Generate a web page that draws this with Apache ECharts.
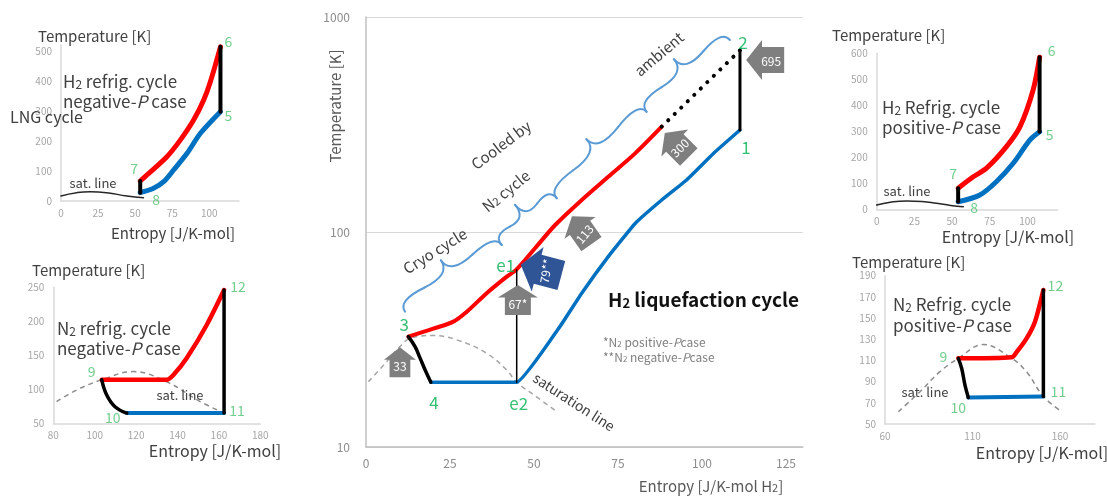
<!DOCTYPE html>
<html>
<head>
<meta charset="utf-8">
<script src="https://cdn.jsdelivr.net/npm/echarts@6/dist/echarts.min.js"></script>
<style>
  html, body { margin: 0; padding: 0; background: #fff; }
  #c { width: 1107px; height: 496px; }
</style>
</head>
<body>
<div id="c"></div>
<script>
// ---------- H2 liquefaction cycle: main T-s diagram [entropy J/K-mol H2, temperature K] ----------
const feedHot = [[12.6,32.6],[20,35.5],[26,38.3],[30,42.6],[35.9,51.9],[41.9,62],[44.6,66.5],[50.3,84],[56.3,107.8],[64.2,140.9],[72.1,180.8],[80.1,232.2],[88,309]];
const feedAmbient = [[88,309],[111.3,700]];
const feedCold = [[19.3,20],[44.85,20],[57.7,36.3],[64.2,51.9],[72.1,76.8],[80.1,109.6],[88,140.9],[95.4,174.6],[103.4,232],[111.3,298]];
const expansion34 = [[12.6,32.6],[14.6,29.3],[16.1,25.9],[17.6,22.8],[19.3,20]];
const compression12 = [[111.3,298],[111.3,700]];
const extractionE = [[44.85,20],[44.85,66.5]];
const h2Saturation = [[0.7,20.1],[5.2,24],[10.1,29.3],[13.1,32],[20,33],[27,31.5],[35.9,27.3],[41.9,22.8],[44.85,20],[50.8,17.1],[56.8,14.6]];
const mainNodeNames = ['1','2','3','4','e1','e2'];
const mainNodeCoords = [[111.3,298],[111.3,700],[12.6,32.6],[19.3,20],[44.85,66.5],[44.85,20]];
const dutyLabels = ['33','67*','79**','113','300','695'];
const dutyCoords = [[10.1,24.8],[45.2,48.3],[52.1,66.5],[64.2,102],[92.5,254],[118.8,631]];
const braceEnds = [[11.6,42.6],[40.4,87],[56.8,143.5],[83.5,362.6],[108.3,781.6]];
const mainXTicks = [0,25,50,75,100,125];

// ---------- H2 refrigeration cycle, negative-P case ----------
const tlHot = [[53.4,66.7],[57.9,86.7],[71.4,147.7],[80.4,203],[89.4,270],[96.2,336.7],[100.7,397.7],[107.5,514]];
const tlCold = [[53.4,27.7],[62.4,42.3],[69.2,64.3],[75.9,103.3],[85,159],[94,225.7],[107.5,297.7]];
const tl78 = [[53.4,27.7],[53.4,66.7]];
const tl56 = [[107.5,297.7],[107.5,514]];
const tlSat = [[0,17],[10.6,27.7],[19.6,31],[30.9,27.7],[44.4,16.7],[55.6,11]];
const tlNodeNames = ['5','6','7','8'];
const tlNodeCoords = [[107.5,297.7],[107.5,514],[53.4,66.7],[53.4,27.7]];
const tlXTicks = [0,25,50,75,100];
const tlYTicks = [0,100,200,300,400,500];

// ---------- N2 refrigeration cycle, negative-P case ----------
const blHot = [[103.4,114],[134.8,114],[138,121],[144.4,145.6],[154.1,194.6],[162.5,246]];
const blCold = [[115.5,65],[162.5,65]];
const blThrottle = [[103.4,114],[105.8,91.6],[109.8,74.4],[115.5,65]];
const bl1112 = [[162.5,65],[162.5,246]];
const blSat = [[81.6,81.8],[91.3,99],[103.4,114],[118.6,126],[134.8,111],[150.9,82],[162.5,65]];
const blNodeNames = ['9','10','11','12'];
const blNodeCoords = [[103.4,114],[115.5,65],[162.5,65],[162.5,246]];
const blXTicks = [80,100,120,140,160,180];
const blYTicks = [50,100,150,200,250];

// ---------- H2 refrigeration cycle, positive-P case ----------
const trHot = [[54,81],[64,125],[72.8,158],[86,241],[95,318],[103.7,459],[108,585]];
const trCold = [[54,29],[68.4,55],[79.3,106],[90.5,177],[101.5,266],[108,298]];
const tr78 = [[54,29],[54,81]];
const tr56 = [[108,298],[108,585]];
const trSat = [[0,16.5],[9,27],[19.9,32],[30,30],[39.7,23],[49,15],[57.4,10]];
const trNodeNames = ['5','6','7','8'];
const trNodeCoords = [[108,298],[108,585],[54,81],[54,29]];
const trXTicks = [0,25,50,75,100];
const trYTicks = [0,100,200,300,400,500,600];

// ---------- N2 refrigeration cycle, positive-P case ----------
const brHot = [[101.9,112],[132.4,113],[135.3,118],[141,131],[145.7,146.6],[150.5,176.5]];
const brCold = [[107.6,75],[150.5,76]];
const brThrottle = [[101.9,112],[103.8,102.6],[105.7,86.8],[107.6,75]];
const br1112 = [[150.5,76],[150.5,176.5]];
const brSat = [[67.6,61.6],[80,80.5],[91.4,99.4],[101.9,112],[116.2,125],[132.4,112],[141,99],[150.5,76],[161,61.6]];
const brNodeNames = ['9','10','11','12'];
const brNodeCoords = [[101.9,112],[107.6,75],[150.5,76],[150.5,176.5]];
const brXTicks = [60,110,160];
const brYTicks = [50,70,90,110,130,150,170,190];

// ---------- styling ----------
const FONT = '"Noto Sans CJK JP", "Noto Sans", sans-serif';
const RED = '#FF0000', BLUE = '#0070C0', BLACK = '#000000';
const GREEN_MAIN = '#00B050', GREEN_PANEL = '#4DC270';
const TXT = '#404040';
// block arrow pointing up; rotated per item
const ARROW_PATH = 'path://M20,0 L40,15 L33,15 L33,36 L7,36 L7,15 L0,15 Z';
const arrowStyle = [
  { rot: 0,  size: [32,30], color: '#7f7f7f', textRot: 0,  offset: [0,4] },
  { rot: 0,  size: [40,30], color: '#7f7f7f', textRot: 0,  offset: [0,4] },
  { rot: 75, size: [46,42], color: '#2F5597', textRot: 80, offset: [5,1] },
  { rot: 35, size: [38,34], color: '#7f7f7f', textRot: 50, offset: [3,4] },
  { rot: 45, size: [38,34], color: '#7f7f7f', textRot: 45, offset: [3,3] },
  { rot: 90, size: [40,38], color: '#7f7f7f', textRot: 0,  offset: [6,1] }
];
const mainNodeOffsets = [[6,18],[3,-8],[-4,-12],[3,20],[-11,-5],[2,21]];
const tlNodeOffsets = [[8,4],[8,-5],[-6,-12],[16,7]];
const blNodeOffsets = [[-10,-8],[-14,5],[13,-2],[14,-3]];
const trNodeOffsets = [[10,3],[12,-7],[-5,-15],[16,6]];
const brNodeOffsets = [[-15,-2],[-10,10],[15,-5],[12,-4]];

const chart = echarts.init(document.getElementById('c'), null, { renderer: 'canvas' });

const grids = [
  { left: 366,   top: 17,    width: 436.8, height: 430 },
  { left: 61,    top: 45,    width: 178,   height: 156 },
  { left: 53.3,  top: 287.3, width: 207,   height: 136 },
  { left: 876.7, top: 53.3,  width: 181,   height: 156 },
  { left: 885,   top: 275.7, width: 210,   height: 148.3 }
].map(g => Object.assign({ containLabel: false, outerBoundsMode: 'none' }, g));

function panelAxis(gi, min, max, ticks, isY) {
  return {
    type: 'value', gridIndex: gi, min, max,
    axisLine: { show: true, onZero: false, lineStyle: { color: '#d9d9d9', width: 1.5 } },
    axisTick: { show: false },
    splitLine: { show: false },
    axisLabel: { customValues: ticks, color: '#a6a6a6', fontSize: 10, fontFamily: FONT, margin: isY ? 9 : 7 }
  };
}

const xAxes = [
  {
    type: 'value', gridIndex: 0, min: 0, max: 130,
    axisLine: { show: true, onZero: false, lineStyle: { color: '#bfbfbf', width: 1.5 } },
    axisTick: { show: false }, splitLine: { show: false },
    axisLabel: { customValues: mainXTicks, color: '#8c8c8c', fontSize: 12, fontFamily: FONT, margin: 10 }
  },
  panelAxis(1, 0, 120, tlXTicks, false),
  panelAxis(2, 80, 180, blXTicks, false),
  panelAxis(3, 0, 120, trXTicks, false),
  panelAxis(4, 60, 180, brXTicks, false)
];
const yAxes = [
  {
    type: 'log', logBase: 10, gridIndex: 0, min: 10, max: 1000,
    axisLine: { show: true, onZero: false, lineStyle: { color: '#bfbfbf', width: 1.5 } },
    axisTick: { show: false },
    splitLine: { show: true, lineStyle: { color: '#d9d9d9', width: 1.2 } },
    minorTick: { show: false }, minorSplitLine: { show: false },
    axisLabel: { color: '#8c8c8c', fontSize: 12, fontFamily: FONT, margin: 16, formatter: v => String(Math.round(v)) }
  },
  panelAxis(1, 0, 520, tlYTicks, true),
  panelAxis(2, 50, 250, blYTicks, true),
  panelAxis(3, 0, 600, trYTicks, true),
  panelAxis(4, 50, 190, brYTicks, true)
];

function line(gi, data, color, width, extra) {
  return Object.assign({
    type: 'line', xAxisIndex: gi, yAxisIndex: gi, data,
    symbol: 'none', clip: false, silent: true, animation: false,
    lineStyle: { color, width, cap: 'round', join: 'round' }
  }, extra || {});
}
function dashed(gi, data, color, width) {
  return line(gi, data, color, width, { smooth: 0.4, z: 1, lineStyle: { color, width, type: [5, 4] } });
}
function nodes(gi, names, coords, offsets, size, color) {
  return {
    type: 'scatter', xAxisIndex: gi, yAxisIndex: gi, symbolSize: 1, clip: false, z: 10,
    silent: true, animation: false,
    itemStyle: { color: 'transparent' },
    data: names.map((n, i) => ({ name: n, value: coords[i], label: { offset: offsets[i] } })),
    label: { show: true, position: 'inside', formatter: '{b}', color, fontSize: size, fontFamily: FONT }
  };
}

const series = [
  // main diagram
  dashed(0, h2Saturation, '#a6a6a6', 1.5),
  line(0, feedHot, RED, 4, { smooth: 0.3 }),
  line(0, feedAmbient, BLACK, 4, { lineStyle: { color: BLACK, width: 4, type: [0.1, 9], cap: 'round' } }),
  line(0, feedCold, BLUE, 3.5, { smooth: 0.1 }),
  line(0, expansion34, BLACK, 3.5, { smooth: 0.4 }),
  line(0, compression12, BLACK, 3),
  line(0, extractionE, BLACK, 1.5),
  nodes(0, mainNodeNames, mainNodeCoords, mainNodeOffsets, 17, GREEN_MAIN),
  // heat-duty arrows
  {
    type: 'scatter', xAxisIndex: 0, yAxisIndex: 0, clip: false, z: 8, silent: true, animation: false,
    symbol: ARROW_PATH, symbolKeepAspect: false,
    data: dutyLabels.map((t, i) => ({
      name: t, value: dutyCoords[i],
      symbolSize: arrowStyle[i].size, symbolRotate: arrowStyle[i].rot,
      itemStyle: { color: arrowStyle[i].color, opacity: 1 }
    })),
    label: { show: false }
  },

  // H2 refrigeration, negative-P
  line(1, tlSat, '#262626', 1.5, { smooth: 0.5 }),
  line(1, tlCold, BLUE, 5, { smooth: 0.3 }),
  line(1, tlHot, RED, 5, { smooth: 0.3 }),
  line(1, tl78, BLACK, 4),
  line(1, tl56, BLACK, 4),
  nodes(1, tlNodeNames, tlNodeCoords, tlNodeOffsets, 14, GREEN_PANEL),

  // N2 refrigeration, negative-P
  dashed(2, blSat, '#8c8c8c', 1.5),
  line(2, blCold, BLUE, 4),
  line(2, blHot, RED, 4.5, { smooth: 0.25 }),
  line(2, blThrottle, BLACK, 3.5, { smooth: 0.4 }),
  line(2, bl1112, BLACK, 3.5),
  nodes(2, blNodeNames, blNodeCoords, blNodeOffsets, 14, GREEN_PANEL),

  // H2 refrigeration, positive-P
  line(3, trSat, '#262626', 1.5, { smooth: 0.5 }),
  line(3, trCold, BLUE, 5, { smooth: 0.3 }),
  line(3, trHot, RED, 5, { smooth: 0.3 }),
  line(3, tr78, BLACK, 4),
  line(3, tr56, BLACK, 4),
  nodes(3, trNodeNames, trNodeCoords, trNodeOffsets, 14, GREEN_PANEL),

  // N2 refrigeration, positive-P
  dashed(4, brSat, '#8c8c8c', 1.5),
  line(4, brCold, BLUE, 4),
  line(4, brHot, RED, 4.5, { smooth: 0.25 }),
  line(4, brThrottle, BLACK, 3.5, { smooth: 0.4 }),
  line(4, br1112, BLACK, 3.5),
  nodes(4, brNodeNames, brNodeCoords, brNodeOffsets, 14, GREEN_PANEL)
];

chart.setOption({
  backgroundColor: '#ffffff',
  animation: false,
  grid: grids,
  xAxis: xAxes,
  yAxis: yAxes,
  series
});

// ---------- text annotations ----------
const richBase = (size, color) => ({
  t: { fontSize: size, fontFamily: FONT, fill: color, color },
  s: { fontSize: Math.round(size * 0.7), fontFamily: FONT, fill: color, color, verticalAlign: 'bottom' },
  i: { fontSize: size, fontFamily: FONT, fontStyle: 'italic', fill: color, color },
  b: { fontSize: size, fontFamily: FONT, fontWeight: 'bold', fill: color, color },
  bs: { fontSize: Math.round(size * 0.7), fontFamily: FONT, fontWeight: 'bold', fill: color, color, verticalAlign: 'bottom' }
});
function txt(x, y, text, size, color, align, rotDeg) {
  return {
    type: 'text', x, y, rotation: (rotDeg || 0) * Math.PI / 180, silent: true, z: 20,
    style: {
      text, fill: color, font: size + 'px ' + FONT,
      align: align || 'center', verticalAlign: 'middle',
      textAlign: align || 'center', textVerticalAlign: 'middle',
      rich: richBase(size, color)
    }
  };
}

const texts = [
  // main diagram
  txt(335, 106, 'Temperature [K]', 15, '#595959', 'center', 90),
  txt(711, 486, '{t|Entropy [J/K-mol H}{s|2}{t|]}', 15, '#595959', 'center'),
  txt(435, 251, 'Cryo cycle', 15, TXT, 'center', 32),
  txt(506, 191, '{t|N}{s|2}{t| cycle}', 15, TXT, 'center', 39),
  txt(501, 145, 'Cooled by', 15, TXT, 'center', 37),
  txt(659, 54, 'ambient', 15, TXT, 'center', 40),
  txt(574, 402, 'saturation line', 14, TXT, 'center', -33),
  txt(608, 300, '{b|H}{bs|2}{b| liquefaction cycle}', 19, '#111111', 'left'),
  txt(603, 342, '{t|*N}{s|2}{t| positive-}{i|P}{t|case}', 12, '#7f7f7f', 'left'),
  txt(603, 357, '{t|**N}{s|2}{t| negative-}{i|P}{t|case}', 12, '#7f7f7f', 'left'),

  // H2 refrigeration, negative-P
  txt(38, 36, 'Temperature [K]', 15, TXT, 'left'),
  txt(63, 82, '{t|H}{s|2}{t| refrig. cycle}', 17, TXT, 'left'),
  txt(63, 102, '{t|negative-}{i|P}{t| case}', 17, TXT, 'left'),
  txt(10, 117, 'LNG cycle', 16, TXT, 'left'),
  txt(93, 183, 'sat. line', 13, TXT, 'center'),
  txt(173, 233, 'Entropy [J/K-mol]', 15, TXT, 'center'),

  // N2 refrigeration, negative-P
  txt(32, 270, 'Temperature [K]', 15, TXT, 'left'),
  txt(57, 329, '{t|N}{s|2}{t| refrig. cycle}', 17, TXT, 'left'),
  txt(57, 349, '{t|negative-}{i|P}{t| case}', 17, TXT, 'left'),
  txt(180, 395, 'sat. line', 13, TXT, 'center'),
  txt(215, 451, 'Entropy [J/K-mol]', 16, TXT, 'center'),

  // H2 refrigeration, positive-P
  txt(832, 35, 'Temperature [K]', 15, TXT, 'left'),
  txt(882, 108, '{t|H}{s|2}{t| Refrig. cycle}', 17, TXT, 'left'),
  txt(882, 128, '{t|positive-}{i|P}{t| case}', 17, TXT, 'left'),
  txt(907, 191, 'sat. line', 13, TXT, 'center'),
  txt(1008, 237, 'Entropy [J/K-mol]', 16, TXT, 'center'),

  // N2 refrigeration, positive-P
  txt(852, 262, 'Temperature [K]', 15, TXT, 'left'),
  txt(893, 305, '{t|N}{s|2}{t| Refrig. cycle}', 17, TXT, 'left'),
  txt(893, 326, '{t|positive-}{i|P}{t| case}', 17, TXT, 'left'),
  txt(925, 392, 'sat. line', 13, TXT, 'center'),
  txt(1042, 453, 'Entropy [J/K-mol]', 16, TXT, 'center')
];

// heat-duty values, centred on the arrow bodies
const dutyTexts = dutyLabels.map((t, i) => {
  const p = chart.convertToPixel({ gridIndex: 0 }, dutyCoords[i]);
  const st = arrowStyle[i];
  return txt(p[0] + st.offset[0], p[1] + st.offset[1], t, 12, '#ffffff', 'center', st.textRot);
});

// ---------- curly braces along the feed stream (quadratic curve pieces) ----------
function braceCurves(p1, p2, w, q) {
  let dx = p1[0] - p2[0], dy = p1[1] - p2[1];
  const len = Math.hypot(dx, dy);
  dx /= len; dy /= len;
  const qx1 = p1[0] + q * w * dy, qy1 = p1[1] - q * w * dx;
  const qx2 = (p1[0] - 0.25 * len * dx) + (1 - q) * w * dy, qy2 = (p1[1] - 0.25 * len * dy) - (1 - q) * w * dx;
  const tx = (p1[0] - 0.5 * len * dx) + w * dy, ty = (p1[1] - 0.5 * len * dy) - w * dx;
  const qx3 = p2[0] + q * w * dy, qy3 = p2[1] - q * w * dx;
  const qx4 = (p1[0] - 0.75 * len * dx) + (1 - q) * w * dy, qy4 = (p1[1] - 0.75 * len * dy) - (1 - q) * w * dx;
  return [
    [p1[0], p1[1], qx2, qy2, qx1, qy1],
    [qx2, qy2, tx, ty, 2 * qx2 - qx1, 2 * qy2 - qy1],
    [p2[0], p2[1], qx4, qy4, qx3, qy3],
    [qx4, qy4, tx, ty, 2 * qx4 - qx3, 2 * qy4 - qy3]
  ];
}
const braceGraphics = [];
for (let i = 0; i < braceEnds.length - 1; i++) {
  const lo = chart.convertToPixel({ gridIndex: 0 }, braceEnds[i]);
  const hi = chart.convertToPixel({ gridIndex: 0 }, braceEnds[i + 1]);
  braceCurves(hi, lo, 22, 0.6).forEach(c => {
    braceGraphics.push({
      type: 'bezierCurve', silent: true, z: 5,
      shape: { x1: c[0], y1: c[1], x2: c[2], y2: c[3], cpx1: c[4], cpy1: c[5] },
      style: { stroke: '#5B9BD5', lineWidth: 2, fill: null, lineCap: 'round' }
    });
  });
}

chart.setOption({ graphic: texts.concat(dutyTexts, braceGraphics) });
</script>
</body>
</html>
